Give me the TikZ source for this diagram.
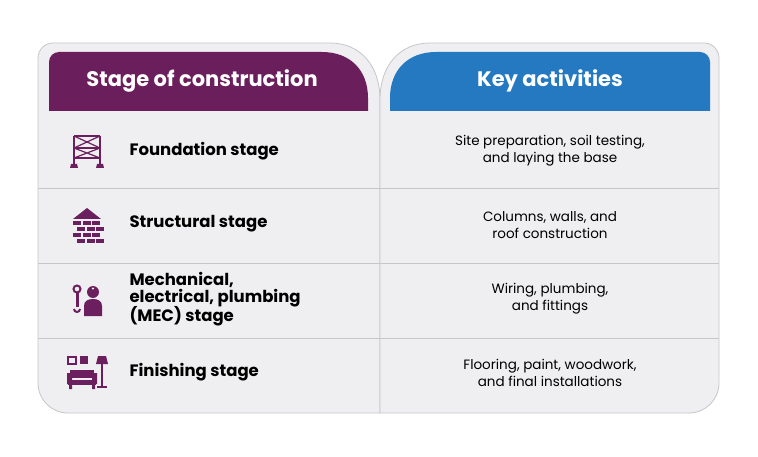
\documentclass[tikz,border=0pt]{standalone}
\usepackage{fontspec}
\setmainfont{Poppins}
\begin{document}
\begin{tikzpicture}[x=1pt,y=-1pt,
  panel/.style={fill=panelbg,draw=panelline,line width=0.8pt},
  rowline/.style={draw=panelline,line width=0.7pt},
  hdr/.style={text=white,font=\fontsize{21}{24}\selectfont\bfseries,anchor=center},
  stage/.style={font=\fontsize{16.5}{19}\selectfont\bfseries,anchor=west,align=left,text=black},
  act/.style={font=\fontsize{13.5}{17}\selectfont,align=center,anchor=center,text=black},
  ic/.style={fill=iconc,draw=none}]
\definecolor{panelbg}{HTML}{EFEEF0}
\definecolor{panelline}{HTML}{C6C5C8}
\definecolor{purp}{HTML}{6A1E5C}
\definecolor{blu}{HTML}{2479C0}
\definecolor{iconc}{HTML}{6B1F5E}
\useasboundingbox (0,0) rectangle (758,457);
% panels
\path[panel] (38,383) -- (38,58) arc[start angle=180,end angle=90,x radius=15,y radius=-15] -- (330,43) .. controls (360,43) and (380,65) .. (380,100) -- (380,413) -- (68,413) arc[start angle=270,end angle=180,x radius=30,y radius=-30] -- cycle;
\path[panel] (380,413) -- (380,100) .. controls (380,65) and (400,43) .. (430,43) -- (704,43) arc[start angle=90,end angle=0,x radius=15,y radius=-15] -- (719,383) arc[start angle=0,end angle=-90,x radius=30,y radius=-30] -- cycle;
% headers
\fill[purp] (49,111) -- (49,62) arc[start angle=180,end angle=90,x radius=10,y radius=-10] -- (322,52) .. controls (350,52) and (368,70) .. (368,98) -- (368,111) -- cycle;
\fill[blu] (390,111) -- (390,98) .. controls (390,70) and (408,52) .. (436,52) -- (700,52) arc[start angle=90,end angle=0,x radius=10,y radius=-10] -- (710,111) -- cycle;
\node[hdr] (h1) at (202,81) {Stage of construction};
\node[hdr] (h2) at (550,81) {Key activities};
% row lines
\foreach \yy in {188,263,338} \draw[rowline] (38,\yy) -- (719,\yy);
% stages
\node[stage] (s1) at (126,151) {Foundation stage};
\node[stage] (s2) at (126,224) {Structural stage};
\node[stage] (s3) at (126,299) {Mechanical,\\[-2pt]electrical, plumbing\\[-2pt](MEC) stage};
\node[stage] (s4) at (126,372) {Finishing stage};
\node[act] (a1) at (550,151) {Site preparation, soil testing,\\and laying the base};
\node[act] (a2) at (550,225) {Columns, walls, and\\roof construction};
\node[act] (a3) at (550,299) {Wiring, plumbing,\\and fittings};
\node[act] (a4) at (550,373) {Flooring, paint, woodwork,\\and final installations};
% icon 1: scaffold
\begin{scope}[iconc,line width=1.8pt]
\draw (74,136) -- (74,164) (100,136) -- (100,164);
\draw[line width=1.4pt] (74,136) -- (100,136) (74,148) -- (100,148) (74,158) -- (100,158);
\draw[line width=1.2pt] (74,136)--(100,148) (100,136)--(74,148) (74,148)--(100,158) (100,148)--(74,158);
\fill (70,168) -- (71,164) -- (77,164) -- (78,168) -- cycle;
\fill (96,168) -- (97,164) -- (103,164) -- (104,168) -- cycle;
\end{scope}
% icon 2: house of bricks
\fill[ic] (87,208) -- (73,219) -- (101,219) -- cycle;
\foreach \r/\o in {221/0,227/4,233/0,239/4}{
  \foreach \c in {0,1,2}{\fill[ic] (73+\o+\c*9.5,\r) rectangle ++(8,4.5);}
}
% icon 3: wrench + worker
\draw[iconc,line width=2pt] (77,289) circle (3.5);
\fill[ic] (75.5,293) rectangle (78.5,303);
\draw[iconc,line width=2pt] (74,309) arc[start angle=180,end angle=360,radius=3,y radius=-3];
\fill[ic] (75.5,303) rectangle (78.5,307);
\fill[ic] (93,292) circle (6);
\fill[ic] (84,316) -- (84,306) .. controls (84,301) and (88,299) .. (93,299) .. controls (98,299) and (102,301) .. (102,306) -- (102,316) -- cycle;
\fill[white] (93,288.5) circle (1.2);
% icon 4: sofa, frames, lamp
\begin{scope}[iconc]
\draw[line width=1.5pt] (68,357) rectangle (76,364);
\fill (80,356) rectangle (88,364);
\fill (98,356) -- (106,356) -- (108,364) -- (96,364) -- cycle;
\fill (101,364) rectangle (103,387);
\fill (97,386) rectangle (107,388);
\fill (70,370) rectangle (94,378);
\fill (67,373) rectangle (72,384) (92,373) rectangle (97,384);
\fill (68,380) rectangle (96,385);
\fill (69,385) rectangle (72,389) (92,385) rectangle (95,389);
\end{scope}
\end{tikzpicture}
\end{document}
